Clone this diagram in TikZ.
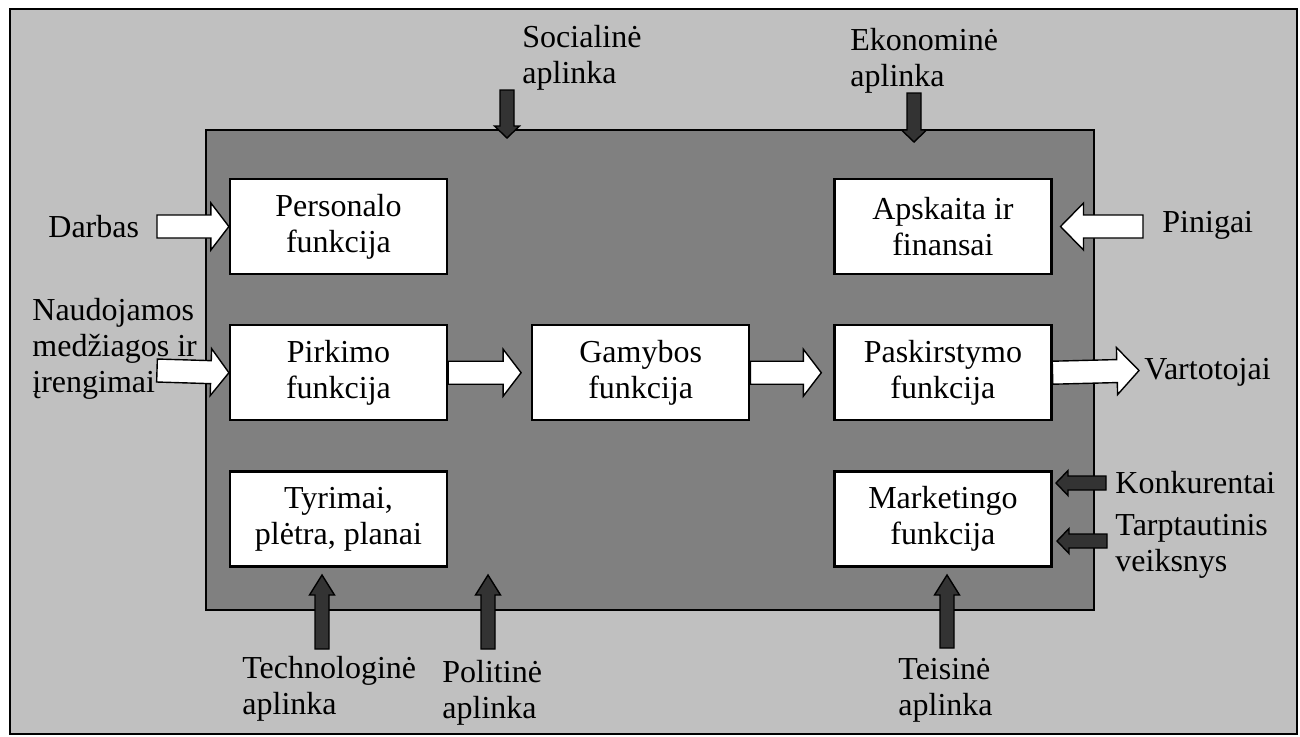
\documentclass[tikz,border=0pt]{standalone}
\usepackage{fontspec}
\setmainfont{Liberation Serif}
\usetikzlibrary{calc,positioning}
\definecolor{envgray}{HTML}{C0C0C0}
\definecolor{firmgray}{HTML}{808080}
\definecolor{forcegray}{HTML}{333333}

\begin{document}
\begin{tikzpicture}[x=0.5pt,y=-0.5pt,font=\fontsize{16}{18}\selectfont,node distance=24.5pt and 41.5pt,
    box/.style={rectangle,draw,line width=1.1pt,fill=white,minimum width=108.5pt,minimum height=47.5pt,align=center,inner sep=2pt},
    label node/.style={align=left,inner sep=0pt,anchor=west},
    block arrow/.style n args={3}{to path={let \p1=(\tikztostart), \p2=(\tikztotarget), \p3=($(\p2)!#3!(\p1)$) in
        ($(\p1)!#1!90:(\p2)$) -- ($(\p3)!#1!-90:(\p1)$) -- ($(\p3)!#2!-90:(\p1)$) -- (\p2)
        -- ($(\p3)!#2!90:(\p1)$) -- ($(\p3)!#1!90:(\p1)$) -- ($(\p1)!#1!-90:(\p2)$) -- cycle}},
    white arrow/.style={draw,line width=0.7pt,fill=white,block arrow={5.75pt}{11.75pt}{#1}},
    white arrow/.default=9pt,
    dark arrow/.style={draw,line width=0.7pt,fill=forcegray,block arrow={3.5pt}{6.25pt}{#1}},
    dark arrow/.default=6pt]
            \useasboundingbox (0,0) rectangle (1300,736);
            \draw [fill=envgray,line width=1pt] (10,9) rectangle (1297,734);
            \draw [fill=firmgray,line width=1pt] (206,130) rectangle (1094,610);

            \node [box](1) at (338.5,226.5){Personalo\\funkcija};
            \node [box](2) [below=of 1]{Pirkimo\\funkcija};
            \node [box](3) [below=of 2]{Tyrimai,\\plėtra, planai};
            \node [box](4) [right=of 2]{Gamybos\\funkcija};
            \node [box](5) [right=of 4]{Paskirstymo\\funkcija};
            \node [box](6) [above=of 5]{Apskaita ir\\finansai};
            \node [box](7) [below=of 5]{Marketingo\\funkcija};

            \node [label node](8) at (48,227){Darbas};
            \node [label node](9) at (32,349){Naudojamos\\medžiagos ir\\įrengimai};
            \node [label node](10) at (1162,225){Pinigai};
            \node [label node](11) at (1144,372){Vartotojai};
            \node [label node](12) at (1115,483){Konkurentai};
            \node [label node](13) at (1115,546){Tarptautinis\\veiksnys};
            \node [label node](14) at (522,58){Socialinė\\aplinka};
            \node [label node](15) at (850,61){Ekonominė\\aplinka};
            \node [label node](16) at (242,689){Technologinė\\aplinka};
            \node [label node](17) at (442,693){Politinė\\aplinka};
            \node [label node](18) at (898,690){Teisinė\\aplinka};

            % ends of the block arrows
            \coordinate (c8) at (157,226.5);
            \coordinate (c9) at (157,370.5);
            \coordinate (c4) at ([xshift=-5pt]4.west);
            \coordinate (c5) at ([xshift=-6pt]5.west);
            \coordinate (c11) at (1139,370.5);
            \coordinate (c10) at (1143,226.5);
            \coordinate (c6) at ([xshift=4pt]6.east);
            \coordinate (c14) at (507,90);
            \coordinate (d14) at (507,138);
            \coordinate (c15) at (914,93);
            \coordinate (d15) at (914,142);
            \coordinate (c16) at (322,649);
            \coordinate (d16) at (322,575);
            \coordinate (c17) at (488,649);
            \coordinate (d17) at (488,575);
            \coordinate (c18) at (947,648);
            \coordinate (d18) at (947,575);
            \coordinate (c12) at (1106,483);
            \coordinate (d12) at (1056,483);
            \coordinate (c13) at (1107,541);
            \coordinate (d13) at (1057,541);

            \path
                (c8) edge[white arrow] (1.west)
                (c9) edge[white arrow] (2.west)
                (2.east) edge[white arrow] (c4)
                (4.east) edge[white arrow] (c5)
                (5.east) edge[white arrow=11pt] (c11)
                (c10) edge[white arrow=11.5pt] (c6)
                ;
            \path
                (c14) edge[dark arrow] (d14)
                (c15) edge[dark arrow] (d15)
                (c16) edge[dark arrow=10pt] (d16)
                (c17) edge[dark arrow=10pt] (d17)
                (c18) edge[dark arrow=10pt] (d18)
                (c12) edge[dark arrow] (d12)
                (c13) edge[dark arrow] (d13)
                ;
        \end{tikzpicture}
\end{document}
